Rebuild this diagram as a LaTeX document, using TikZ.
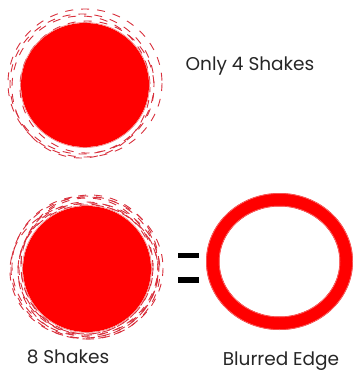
\documentclass[tikz,border=0pt]{standalone}
\usepackage{fontspec}
\setmainfont{Poppins}
\definecolor{fillred}{HTML}{FF0000}
\definecolor{shakered}{HTML}{D8303C}
\definecolor{edgered}{HTML}{F08080}
\tikzset{
  shake/.style={draw=shakered, line width=0.9pt, dash pattern=on 8pt off 8pt},
  bar/.style={fill=black},
  lbl/.style={font=\fontsize{18.5}{22}\selectfont, text=black!85, inner sep=0pt}
}
\begin{document}
\begin{tikzpicture}[x=1pt,y=-1pt]
\useasboundingbox (0,0) rectangle (355,372);
% top: 4 shakes
\draw[shake] (85,83) ellipse [x radius=77, y radius=74];
\draw[shake, dash phase=5pt] (82,84) ellipse [x radius=72, y radius=70];
\draw[shake, dash phase=10pt] (87,87) ellipse [x radius=67, y radius=66];
\draw[shake, dash phase=3pt] (81,87) ellipse [x radius=69, y radius=71];
\fill[fillred] (85,85) ellipse [x radius=64, y radius=62];
\draw[edgered, line width=0.6pt] (85,85) ellipse [x radius=64.5, y radius=62.5];
% bottom: 8 shakes
\draw[shake] (87,268) ellipse [x radius=76, y radius=71];
\draw[shake, dash phase=4pt] (85,266) ellipse [x radius=73, y radius=70];
\draw[shake, dash phase=8pt] (89,271) ellipse [x radius=71, y radius=68];
\draw[shake, dash phase=12pt] (84,271) ellipse [x radius=74, y radius=67];
\draw[shake, dash phase=2pt] (90,266) ellipse [x radius=69, y radius=71];
\draw[shake, dash phase=6pt] (86,268) ellipse [x radius=67, y radius=66];
\draw[shake, dash phase=10pt] (88,270) ellipse [x radius=70, y radius=65];
\draw[shake, dash phase=14pt] (87,266) ellipse [x radius=66, y radius=68];
\fill[fillred] (87,269) ellipse [x radius=64, y radius=63];
\draw[edgered, line width=0.6pt] (87,269) ellipse [x radius=64.5, y radius=63.5];
% equals
\fill[bar] (178,253) rectangle (199,258);
\fill[bar] (178,277) rectangle (199,283);
% blurred edge ring
\fill[fillred, even odd rule] (279.5,261.5) ellipse [x radius=73.5, y radius=68.5]
  (279.5,261.5) ellipse [x radius=60, y radius=55];
\draw[edgered, line width=0.5pt] (279.5,261.5) ellipse [x radius=73, y radius=68];
\draw[edgered, line width=0.5pt] (279.5,261.5) ellipse [x radius=60.5, y radius=55.5];
% labels
\node[lbl] (t1) at (250,66) {Only 4 Shakes};
\node[lbl] (t2) at (68,357) {8 Shakes};
\node[lbl] (t3) at (281,361) {Blurred Edge};
\end{tikzpicture}
\end{document}
